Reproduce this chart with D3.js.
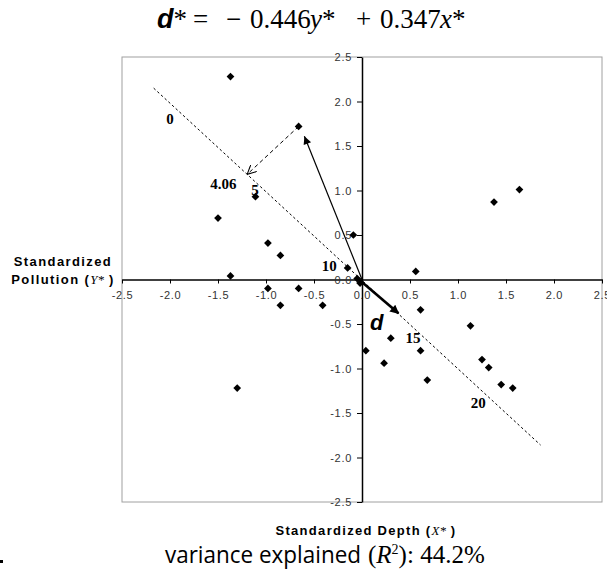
<!DOCTYPE html>
<html>
<head>
<meta charset="utf-8">
<script src="https://cdn.jsdelivr.net/npm/d3@7"></script>
<style>
  body { margin: 0; background: #fff; }
  svg { display: block; }
</style>
</head>
<body>
<svg id="chart"></svg>
<script>
// standardized samples (x* = depth, y* = pollution)
const depthStd = [-1.37, -0.66, -1.11, -1.50, -0.98, -0.85, -0.09, -0.15, -1.37, -0.05,
                  -0.02, -0.98, -0.66, -0.85, -0.41, -1.30, 0.04, 0.56, 0.61, 0.30,
                  0.23, 0.61, 0.68, 1.13, 1.25, 1.32, 1.45, 1.57, 1.375, 1.64];
const pollutionStd = [2.28, 1.72, 0.93, 0.69, 0.41, 0.27, 0.50, 0.13, 0.04, 0.01,
                      -0.04, -0.10, -0.10, -0.29, -0.29, -1.22, -0.80, 0.09, -0.34, -0.66,
                      -0.94, -0.80, -1.13, -0.52, -0.90, -0.99, -1.18, -1.22, 0.87, 1.01];
const tickValues = [-2.5, -2.0, -1.5, -1.0, -0.5, 0.0, 0.5, 1.0, 1.5, 2.0, 2.5];

// d* axis (dashed) and its score labels
const dAxisStart = [-2.17, 2.15];
const dAxisEnd = [1.86, -1.86];
const dLabels = ["0", "4.06", "5", "10", "15", "20"];
const dLabelX = [-2.0, -1.445, -1.115, -0.34, 0.53, 1.21];
const dLabelY = [1.81, 1.08, 1.005, 0.16, -0.66, -1.38];

// highlighted sample, its vector tip and the unit vector d
const focusPoint = [-0.66, 1.72];
const focusArrowTip = [-0.60, 1.61];
const dVectorStart = [-0.02, -0.01];
const dVectorTip = [0.38, -0.38];

// title pieces: text, style
const titleParts = ["d", "*", "=", "\u2212", "0.446", "y", "*", "+", "0.347", "x", "*"];
const titleStyle = ["dvec", "sup", "op", "op", "num", "var", "sup", "op", "num", "var", "sup"];

const width = 607, height = 569;
const svg = d3.select("#chart").attr("width", width).attr("height", height);

const x = d3.scaleLinear().domain([-2.5, 2.5]).range([122, 602]);
const y = d3.scaleLinear().domain([-2.5, 2.5]).range([502, 57]);

const defs = svg.append("defs");
defs.append("marker")
    .attr("id", "headThin")
    .attr("markerUnits", "userSpaceOnUse")
    .attr("viewBox", "0 0 10 10")
    .attr("refX", 10).attr("refY", 5)
    .attr("markerWidth", 11).attr("markerHeight", 8)
    .attr("orient", "auto")
    .append("path").attr("d", "M0,0 L10,5 L0,10 Z").attr("fill", "#000");
defs.append("marker")
    .attr("id", "headThick")
    .attr("markerUnits", "userSpaceOnUse")
    .attr("viewBox", "0 0 10 10")
    .attr("refX", 9).attr("refY", 5)
    .attr("markerWidth", 12).attr("markerHeight", 9)
    .attr("orient", "auto")
    .append("path").attr("d", "M0,0 L10,5 L0,10 Z").attr("fill", "#000");
defs.append("marker")
    .attr("id", "headOpen")
    .attr("markerUnits", "userSpaceOnUse")
    .attr("viewBox", "0 0 10 10")
    .attr("refX", 10).attr("refY", 5)
    .attr("markerWidth", 9).attr("markerHeight", 9)
    .attr("orient", "auto")
    .append("path").attr("d", "M0,0 L10,5 L0,10").attr("fill", "none")
    .attr("stroke", "#000").attr("stroke-width", 1.2);

/* ---- plot frame ---- */
svg.append("rect")
    .attr("x", x(-2.5)).attr("y", y(2.5))
    .attr("width", x(2.5) - x(-2.5)).attr("height", y(-2.5) - y(2.5))
    .attr("fill", "none").attr("stroke", "#a0a0a0").attr("stroke-width", 1);

/* ---- axes through the origin ---- */
const fmt = d => d.toFixed(1);

const xAxis = svg.append("g")
    .attr("transform", `translate(0,${y(0)})`)
    .call(d3.axisBottom(x).tickValues(tickValues).tickFormat(fmt)
        .tickSize(4).tickSizeOuter(0).tickPadding(8));
const yAxis = svg.append("g")
    .attr("transform", `translate(${x(0)},0)`)
    .call(d3.axisLeft(y).tickValues(tickValues).tickFormat(fmt)
        .tickSize(5).tickSizeOuter(0).tickPadding(5));

[xAxis, yAxis].forEach(g => {
    g.select(".domain").attr("stroke", "#000").attr("stroke-width", 1.5);
    g.selectAll(".tick line").attr("stroke", "#000");
    g.selectAll(".tick text")
        .attr("fill", "#333")
        .style("font-family", "'Liberation Sans', Arial, sans-serif")
        .style("font-size", "11px")
        .style("letter-spacing", "0.7px");
});

/* ---- d* axis ---- */
svg.append("line")
    .attr("x1", x(dAxisStart[0])).attr("y1", y(dAxisStart[1]))
    .attr("x2", x(dAxisEnd[0])).attr("y2", y(dAxisEnd[1]))
    .attr("stroke", "#000").attr("stroke-width", 1)
    .attr("stroke-dasharray", "2.5,2.5");

// projection of the highlighted sample onto the d* axis
const ux = dAxisEnd[0] - dAxisStart[0], uy = dAxisEnd[1] - dAxisStart[1];
const t = ((focusPoint[0] - dAxisStart[0]) * ux + (focusPoint[1] - dAxisStart[1]) * uy) / (ux * ux + uy * uy);
const foot = [dAxisStart[0] + t * ux, dAxisStart[1] + t * uy];

svg.append("line")
    .attr("x1", x(focusPoint[0])).attr("y1", y(focusPoint[1]))
    .attr("x2", x(foot[0])).attr("y2", y(foot[1]))
    .attr("stroke", "#000").attr("stroke-width", 1)
    .attr("stroke-dasharray", "4,3")
    .attr("marker-end", "url(#headOpen)");

svg.append("line")
    .attr("x1", x(0)).attr("y1", y(0))
    .attr("x2", x(focusArrowTip[0])).attr("y2", y(focusArrowTip[1]))
    .attr("stroke", "#000").attr("stroke-width", 1.2)
    .attr("marker-end", "url(#headThin)");

/* ---- samples ---- */
const pts = depthStd.map((d, i) => [d, pollutionStd[i]]);
svg.append("g").selectAll("path")
    .data(pts)
    .enter()
    .append("path")
    .attr("d", d3.symbol(d3.symbolSquare, 30))
    .attr("transform", d => `translate(${x(d[0])},${y(d[1])}) rotate(45)`)
    .attr("fill", "#000");

/* ---- unit vector d ---- */
svg.append("line")
    .attr("x1", x(dVectorStart[0])).attr("y1", y(dVectorStart[1]))
    .attr("x2", x(dVectorTip[0])).attr("y2", y(dVectorTip[1]))
    .attr("stroke", "#000").attr("stroke-width", 2.6)
    .attr("marker-end", "url(#headThick)");

svg.append("text")
    .attr("x", 370).attr("y", 330)
    .style("font-family", "'Liberation Sans', Arial, sans-serif")
    .style("font-weight", "bold").style("font-style", "italic")
    .style("font-size", "22px")
    .text("d");

/* ---- d* score labels ---- */
svg.append("g").selectAll("text")
    .data(dLabels)
    .enter()
    .append("text")
    .attr("x", (d, i) => x(dLabelX[i]))
    .attr("y", (d, i) => y(dLabelY[i]))
    .attr("dy", "0.35em")
    .attr("text-anchor", "middle")
    .style("font-family", "'Liberation Serif', 'Times New Roman', serif")
    .style("font-weight", "bold")
    .style("font-size", "15px")
    .text(d => d);

/* ---- title ---- */
// horizontal start of each title piece (null = follows previous piece)
const titleX = [157, null, 193, 226, 250, 310, null, 356, 380, 440, null];
const title = svg.append("text")
    .attr("y", 28)
    .style("font-family", "'Liberation Serif', 'Times New Roman', serif")
    .style("font-size", "27px");
title.selectAll("tspan")
    .data(titleParts)
    .enter()
    .append("tspan")
    .attr("x", (d, i) => titleX[i])
    .style("font-family", (d, i) => titleStyle[i] === "dvec" ? "'Liberation Sans', Arial, sans-serif" : null)
    .style("font-weight", (d, i) => titleStyle[i] === "dvec" ? "bold" : null)
    .style("font-style", (d, i) => (titleStyle[i] === "dvec" || titleStyle[i] === "var") ? "italic" : null)
    .text(d => d);

/* ---- axis titles ---- */
const labelFont = "'Liberation Sans', Arial, sans-serif";
const yTitle = svg.append("text")
    .attr("text-anchor", "middle")
    .style("font-family", labelFont).style("font-weight", "bold")
    .style("font-size", "13px").style("letter-spacing", "1.4px");
yTitle.append("tspan").attr("x", 63).attr("y", 266).text("Standardized");
const yLine2 = yTitle.append("tspan").attr("x", 63).attr("y", 283.5);
yLine2.append("tspan").text("Pollution (");
yLine2.append("tspan")
    .style("font-family", "'Liberation Serif', serif")
    .style("font-weight", "normal").style("font-style", "italic")
    .style("letter-spacing", "0px")
    .text("Y*");
yLine2.append("tspan").text(" )");

const xTitle = svg.append("text")
    .attr("x", 366).attr("y", 535)
    .attr("text-anchor", "middle")
    .style("font-family", labelFont).style("font-weight", "bold")
    .style("font-size", "13px").style("letter-spacing", "1.3px");
xTitle.append("tspan").text("Standardized Depth (");
xTitle.append("tspan")
    .style("font-family", "'Liberation Serif', serif")
    .style("font-weight", "normal").style("font-style", "italic")
    .style("letter-spacing", "0px")
    .text("X*");
xTitle.append("tspan").text(" )");

/* ---- variance explained ---- */
svg.append("text")
    .attr("x", 165).attr("y", 563)
    .attr("textLength", 196).attr("lengthAdjust", "spacingAndGlyphs")
    .style("font-family", "'Open Sans', 'Noto Sans', sans-serif")
    .style("font-size", "23px")
    .text("variance explained");
const r2 = svg.append("text")
    .attr("x", 368).attr("y", 563)
    .style("font-family", "'Liberation Serif', 'Times New Roman', serif")
    .style("font-size", "25px");
r2.append("tspan").text("(");
r2.append("tspan").style("font-style", "italic").text("R");
r2.append("tspan").attr("dy", -9).style("font-size", "14px").text("2");
r2.append("tspan").attr("dy", 9).text("): 44.2%");

// small stray mark at the lower left of the original
svg.append("rect").attr("x", 0).attr("y", 560).attr("width", 3).attr("height", 3).attr("fill", "#000");
</script>
</body>
</html>
